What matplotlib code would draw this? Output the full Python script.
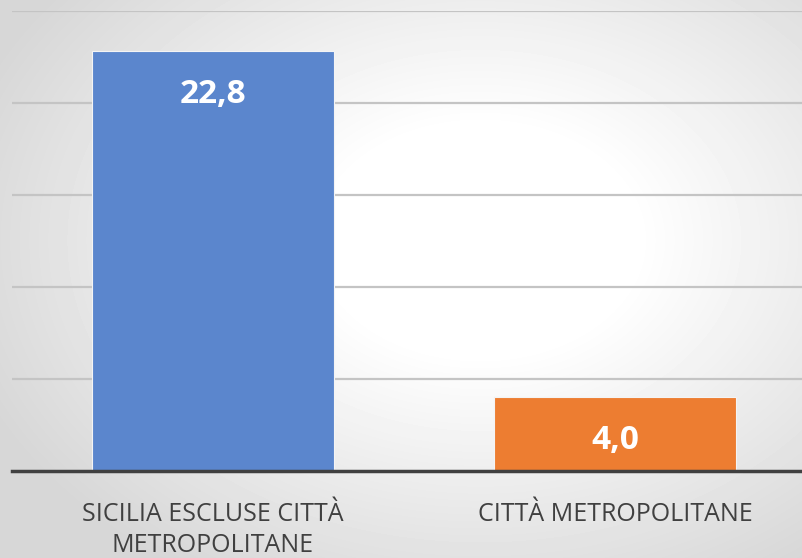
import numpy as np
import matplotlib
matplotlib.use("Agg")
import matplotlib.pyplot as plt

# dati
categorie = ["SICILIA ESCLUSE CITTÀ\nMETROPOLITANE", "CITTÀ METROPOLITANE"]
valori = [22.8, 4.0]
etichette = ["22,8", "4,0"]
colori = ["#5B86CD", "#ED7D31"]

plt.rcParams['font.family'] = ['Open Sans', 'DejaVu Sans']

fig = plt.figure(figsize=(8.03, 5.58), dpi=100)

# sfondo con gradiente radiale (bianco al centro, grigio ai bordi)
bg = fig.add_axes([0, 0, 1, 1], zorder=-10)
yy, xx = np.mgrid[0:558, 0:803]
r = np.sqrt(((xx - 480) / 520.0) ** 2 + ((yy - 240) / 380.0) ** 2)
livello = 1.0 - 0.16 * np.clip((r - 0.3) / 0.75, 0, 1)
bg.imshow(livello, cmap="gray", vmin=0, vmax=1, aspect="auto", interpolation="bilinear")
bg.axis("off")

ax = fig.add_axes([12 / 803, 87 / 558, 804 / 803, 460 / 558])
ax.patch.set_alpha(0)

x = np.arange(len(valori))
barre = ax.bar(x, valori, width=0.6, color=colori, edgecolor="#f4f4f4", linewidth=0.8, zorder=3)

for xi, v, lab in zip(x, valori, etichette):
    ax.annotate(lab, (xi, v), xytext=(0, -31), textcoords="offset points",
                ha="center", va="center", color="white", fontsize=24, fontweight="bold", zorder=4)

ax.set_xlim(-0.5, 1.5)
ax.set_ylim(0, 25)
ax.set_yticks([5, 10, 15, 20, 25])
ax.yaxis.grid(True, color="#c4c4c4", linewidth=1.6, zorder=0)
ax.tick_params(axis="y", left=False, labelleft=False)
ax.tick_params(axis="x", bottom=False, pad=19)
ax.set_xticks(x)
ax.set_xticklabels(categorie, fontsize=18, color="#404040", linespacing=1.28)

for s in ["top", "right", "left"]:
    ax.spines[s].set_visible(False)
ax.spines["bottom"].set_color("#404040")
ax.spines["bottom"].set_linewidth(2.5)
ax.spines["bottom"].set_zorder(5)

fig.savefig("out.png", dpi=100)
